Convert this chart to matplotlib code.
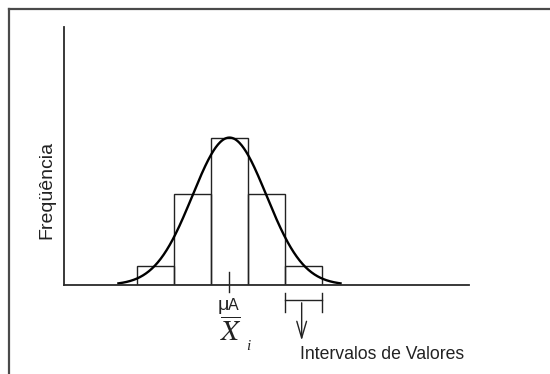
import matplotlib
matplotlib.use("Agg")
import matplotlib.pyplot as plt
from matplotlib.lines import Line2D
import numpy as np

plt.rcParams['font.family'] = ['Liberation Sans', 'DejaVu Sans']
plt.rcParams['mathtext.fontset'] = 'stix'

# histograma ilustrativo (classes de largura 1 em torno da media)
class_centers = [-2, -1, 0, 1, 2]
class_freq = [0.13, 0.62, 1.0, 0.62, 0.13]
CLASS_WIDTH = 1.0

# curva normal teorica
MU = 0.0
SIGMA = 1.0
PEAK = 1.0
CURVE_SPAN = 3.0  # em desvios padrao

X_LABEL = 'Intervalos de Valores'
Y_LABEL = 'Freqüência'

W, H = 550, 374
fig = plt.figure(figsize=(W / 100, H / 100), dpi=100)

# moldura (so os lados esquerdo e superior aparecem)
frame_kw = dict(color='#4a4a4a', linewidth=1.6, transform=fig.transFigure)
fig.add_artist(Line2D([9 / W, 9 / W], [0, 1 - 9 / H], **frame_kw))
fig.add_artist(Line2D([9 / W, 1], [1 - 9 / H, 1 - 9 / H], **frame_kw))

ax = fig.add_axes([64 / W, 1 - 285 / H, 405 / W, 258 / H])
ax.set_xlim(-4.47, 6.47)
ax.set_ylim(0, 1.75)
for s in ('top', 'right'):
    ax.spines[s].set_visible(False)
for s in ('left', 'bottom'):
    ax.spines[s].set_linewidth(1.3)
    ax.spines[s].set_color('#2a2a2a')
ax.set_xticks([])
ax.set_yticks([])

ax.bar(class_centers, class_freq, width=CLASS_WIDTH, fill=False,
       edgecolor='#222222', linewidth=1.0)

x = np.linspace(MU - CURVE_SPAN * SIGMA, MU + CURVE_SPAN * SIGMA, 300)
y = PEAK * np.exp(-0.5 * ((x - MU) / SIGMA) ** 2)
ax.plot(x, y, color='black', linewidth=1.7)

# marca da media
ax.plot([MU, MU], [-0.05, 0.088], color='#222222', linewidth=1.0, clip_on=False)
ax.text(MU - 0.17, -0.172, 'μ', fontsize=14, ha='center', va='baseline', color='#222')
ax.text(MU - 0.03, -0.172, 'A', fontsize=11.5, ha='left', va='baseline', color='#222')
ax.text(MU + 0.05, -0.385, r'$\overline{X}$', fontsize=21, ha='center',
        va='baseline', color='#222')
ax.text(MU + 0.5, -0.44, 'i', fontsize=11, ha='center', va='baseline',
        family='Liberation Serif', style='italic', color='#222')

# indicacao da largura de uma classe
lo, hi = class_centers[-1] - CLASS_WIDTH / 2, class_centers[-1] + CLASS_WIDTH / 2
yb = -0.102
ax.plot([lo, hi], [yb, yb], color='#222', linewidth=1.0, clip_on=False)
for xe in (lo, hi):
    ax.plot([xe, xe], [yb + 0.05, yb - 0.078], color='#222', linewidth=1.0,
            clip_on=False)
ax.annotate('', xy=(class_centers[-1] - 0.05, -0.395),
            xytext=(class_centers[-1] - 0.05, yb),
            arrowprops=dict(arrowstyle='->,head_length=1.2,head_width=0.35',
                            color='#222', linewidth=1.0),
            annotation_clip=False)
ax.text(1.9, -0.503, X_LABEL, fontsize=12.7, ha='left', va='baseline', color='#222')

fig.text(46.8 / W, 1 - 190 / H, Y_LABEL, rotation=90, fontsize=14,
         ha='center', va='center', color='#222')

fig.savefig('out.png', dpi=100)
